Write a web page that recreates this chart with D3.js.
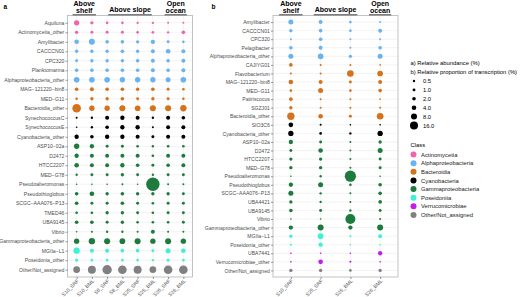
<!DOCTYPE html>
<html lang="en">
<head>
  <meta charset="UTF-8">
  <title>Bubble chart</title>
  <script src="https://d3js.org/d3.v7.min.js"></script>
</head>
<body style="margin:0">
  <div id="chart"></div>
  <script type="text/javascript">

  var w = 520;
  var h = 297;
  var font = '"Liberation Sans", Arial, sans-serif';

  // ---- data ----
  var classes = ["Actinomycetia", "Alphaproteobacteria", "Bacteroidia", "Cyanobacteria",
    "Gammaproteobacteria", "Poseidoniia", "Verrucomicrobiae", "Other/Not_assigned"];
  var classColors = ["#F064AC", "#6BB3EF", "#D4731C", "#000000", "#1E7B3E", "#3DF2D4", "#C41CEC", "#808080"];

  var sizeBreaks = [0.5, 1.0, 2.0, 4.0, 8.0, 16.0];

  var aCols = ["S10_SRF", "S10_BML", "S8_SRF", "S8_BML", "S25_SRF", "S25_BML", "S26_SRF", "S26_BML"];
  var aGroups = [["Above", "shelf"], ["Above slope"], ["Open", "ocean"]];
  var aGroupCols = [["S10_SRF", "S10_BML"], ["S8_SRF", "S25_BML"], ["S26_SRF", "S26_BML"]];
  var aRows = ["Aquiluna", "Actinomycetia_other", "Amylibacter", "CACCCN01", "CPC320", "Planktomarina",
    "Alphaproteobacteria_other", "MAG−121220−bin8", "MED−G11", "Bacteroidia_other", "SynechococcusC",
    "SynechococcusE", "Cyanobacteria_other", "ASP10−02a", "D2472", "HTCC2207", "MED−G78",
    "Pseudoalteromonas", "Pseudothioglobus", "SCGC−AAA076−P13", "TMED46", "UBA9145", "Vibrio",
    "Gammaproteobacteria_other", "MGIIa−L1", "Poseidonia_other", "Other/Not_assigned"];
  var aClass = [0, 0, 1, 1, 1, 1, 1, 2, 2, 2, 3, 3, 3, 4, 4, 4, 4, 4, 4, 4, 4, 4, 4, 4, 5, 5, 7];
  var aValues = [
    [5.9, 1.6, 0.74, 0.74, 0.45, 0.45, 0.22, 0.22],
    [1.6, 1.1, 1.1, 1.1, 0.74, 0.74, 0.45, 2.1],
    [4.1, 8.0, 2.1, 2.1, 1.6, 3.4, 1.1, 0.74],
    [1.6, 1.6, 1.6, 2.1, 1.6, 2.7, 4.1, 2.7],
    [1.1, 1.6, 1.6, 1.6, 2.1, 2.7, 2.1, 2.7],
    [2.1, 2.1, 2.1, 2.1, 2.1, 2.7, 2.1, 2.7],
    [6.9, 6.9, 6.9, 5.9, 5.9, 5.9, 5.0, 6.9],
    [2.1, 2.7, 2.1, 2.1, 1.6, 2.1, 1.1, 0.74],
    [0.74, 1.6, 1.6, 2.1, 1.1, 1.6, 1.1, 0.74],
    [19, 5.9, 5.9, 8.0, 6.9, 8.0, 8.0, 9.1],
    [0.22, 0.45, 2.7, 3.4, 2.7, 0.45, 2.7, 2.1],
    [0.07, 0.45, 2.1, 3.4, 3.4, 0.22, 2.7, 2.7],
    [3.4, 2.1, 3.4, 3.4, 2.7, 1.1, 2.7, 2.7],
    [5.9, 3.4, 1.1, 1.1, 0.74, 0.45, 0.74, 0.74],
    [3.4, 2.7, 2.7, 2.7, 2.7, 0.74, 2.7, 2.7],
    [4.1, 2.7, 2.7, 3.4, 2.1, 1.1, 2.1, 2.7],
    [0.45, 1.1, 1.1, 1.6, 1.1, 0.45, 1.1, 1.1],
    [0.07, 0.07, 0.07, 0.22, 0.07, 51, 0.22, 0.22],
    [2.1, 4.1, 1.6, 2.1, 1.6, 1.6, 1.6, 1.1],
    [2.1, 1.1, 1.1, 2.1, 1.1, 0.74, 1.1, 1.1],
    [0.74, 0.74, 1.6, 1.6, 1.1, 0.74, 1.1, 1.1],
    [2.1, 2.1, 1.1, 1.6, 0.74, 0.74, 0.74, 1.1],
    [0.07, 0.22, 0.45, 0.45, 0.22, 2.7, 0.22, 0.22],
    [5.9, 9.1, 8.0, 6.9, 8.0, 5.9, 8.0, 5.9],
    [9.1, 2.7, 2.7, 2.1, 2.1, 1.1, 5.0, 4.1],
    [1.1, 0.74, 0.74, 0.74, 0.74, 0.45, 1.1, 0.74],
    [10.3, 16, 23, 19, 16, 10.3, 19, 19]
  ];

  var bCols = ["S10_SRF", "S25_SRF", "S25_BML", "S26_BML"];
  var bGroups = [["Above", "shelf"], ["Above slope"], ["Open", "ocean"]];
  var bGroupCols = [["S10_SRF", "S10_SRF"], ["S25_SRF", "S25_BML"], ["S26_BML", "S26_BML"]];
  var bRows = ["Amylibacter", "CACCCN01", "CPC320", "Pelagibacter", "Alphaproteobacteria_other",
    "CAJIYG01", "Flavobacterium", "MAG−121220−bin8", "MED−G11", "Patiriscocus", "SGZJ01",
    "Bacteroidia_other", "SIO3C6", "Cyanobacteria_other", "ASP10−02a", "D2472", "HTCC2207",
    "MED−G78", "Pseudoalteromonas", "Pseudothioglobus", "SCGC−AAA076−P13", "UBA4421", "UBA9145",
    "Vibrio", "Gammaproteobacteria_other", "MGIIa−L1", "Poseidonia_other", "UBA7441",
    "Verrucomicrobiae_other", "Other/Not_assigned"];
  var bClass = [1, 1, 1, 1, 1, 2, 2, 2, 2, 2, 2, 2, 3, 3, 4, 4, 4, 4, 4, 4, 4, 4, 4, 4, 4, 5, 5, 6, 6, 7];
  var bValues = [
    [5.0, 2.7, 0.74, 0.22],
    [1.6, 2.1, 0.74, 2.7],
    [0.22, 2.1, 0.22, 0.22],
    [2.1, 2.7, 0.22, 2.1],
    [5.0, 6.9, 1.6, 5.0],
    [2.1, 0.22, 0.22, 0.07],
    [0.22, 0.22, 10.3, 6.9],
    [4.1, 2.7, 1.1, 2.7],
    [0.74, 5.0, 0.74, 2.1],
    [2.1, 0.22, 0.22, 0.07],
    [1.6, 0.22, 0.22, 0.22],
    [13, 4.1, 1.1, 10.3],
    [4.1, 0.22, 0.07, 0.07],
    [5.9, 0.74, 0.45, 5.9],
    [3.4, 1.1, 0.22, 1.6],
    [1.1, 4.1, 0.22, 5.0],
    [1.6, 1.6, 0.22, 1.1],
    [1.6, 1.6, 0.22, 1.1],
    [0.07, 0.45, 35, 0.07],
    [3.4, 5.0, 0.74, 2.1],
    [5.0, 0.45, 0.22, 2.1],
    [1.6, 0.45, 0.22, 2.1],
    [2.1, 1.1, 0.45, 1.1],
    [0.07, 0.07, 27, 0.22],
    [3.4, 8.0, 3.4, 8.0],
    [1.6, 6.9, 0.22, 2.7],
    [0.22, 3.4, 0.07, 0.07],
    [0.07, 0.07, 0.07, 3.4],
    [0.07, 4.1, 0.22, 0.07],
    [1.6, 1.6, 0.74, 1.6]
  ];

  // ---- shared scales ----
  var size = d3.scaleSqrt().domain([0, 16]).range([0.6, 4.0]);
  var color = d3.scaleOrdinal().domain(d3.range(classes.length)).range(classColors);

  var svg = d3.select('#chart')
    .append('svg')
    .attr('width', w)
    .attr('height', h)
    .style('font-family', font);

  svg.append('rect').attr('width', w).attr('height', h).attr('fill', '#fff');

  function drawPanel(cfg) {
    var x = d3.scalePoint().domain(cfg.cols).range([cfg.left, cfg.right]).padding(0.6);
    var y = d3.scalePoint().domain(cfg.rows).range([cfg.top, cfg.bottom]).padding(0.77);

    var g = svg.append('g');

    // grid
    g.selectAll('line.hg').data(cfg.rows).enter().append('line')
      .attr('x1', cfg.left).attr('x2', cfg.right)
      .attr('y1', d => y(d)).attr('y2', d => y(d))
      .attr('stroke', '#ebebeb').attr('stroke-width', 0.6);
    g.selectAll('line.vg').data(cfg.cols).enter().append('line')
      .attr('y1', cfg.top).attr('y2', cfg.bottom)
      .attr('x1', d => x(d)).attr('x2', d => x(d))
      .attr('stroke', '#ebebeb').attr('stroke-width', 0.6);

    // bubbles
    var cells = [];
    cfg.values.forEach(function(row, i) {
      row.forEach(function(v, j) {
        cells.push({row: cfg.rows[i], col: cfg.cols[j], v: v, c: cfg.cls[i]});
      });
    });
    g.selectAll('circle.b').data(cells).enter().append('circle')
      .attr('cx', d => x(d.col))
      .attr('cy', d => y(d.row))
      .attr('r', d => size(d.v))
      .attr('fill', d => color(d.c));

    // border
    g.append('rect')
      .attr('x', cfg.left).attr('y', cfg.top)
      .attr('width', cfg.right - cfg.left).attr('height', cfg.bottom - cfg.top)
      .attr('fill', 'none').attr('stroke', '#b3b3b3').attr('stroke-width', 0.8);

    // axes
    var ya = g.append('g').attr('transform', 'translate(' + cfg.left + ',0)')
      .call(d3.axisLeft(y).tickSize(2).tickPadding(1.2))
      .attr('font-family', null).attr('font-size', null);
    ya.select('.domain').remove();
    ya.selectAll('line').attr('stroke', '#333').attr('stroke-width', 0.5);
    ya.selectAll('text').style('font-size', '5.1px').attr('fill', '#4d4d4d')
      .style('font-family', font);

    var xa = g.append('g').attr('transform', 'translate(0,' + cfg.bottom + ')')
      .call(d3.axisBottom(x).tickSize(2))
      .attr('font-family', null).attr('font-size', null);
    xa.select('.domain').remove();
    xa.selectAll('line').attr('stroke', '#333').attr('stroke-width', 0.5);
    xa.selectAll('text').style('font-size', '5px').attr('fill', '#4d4d4d')
      .style('font-family', font)
      .attr('text-anchor', 'end')
      .attr('dy', null).attr('y', 0)
      .attr('transform', 'translate(2,4.3) rotate(-45)');

    // group headers
    cfg.groups.forEach(function(lines, k) {
      var c0 = x(cfg.groupCols[k][0]), c1 = x(cfg.groupCols[k][1]);
      var cx = (c0 + c1) / 2;
      var t = g.append('text').attr('text-anchor', 'middle')
        .style('font-size', '7px').attr('font-weight', 'bold').attr('fill', '#000');
      var base = lines.length === 2 ? 6.3 : 11.5;
      lines.forEach(function(s, li) {
        t.append('tspan').attr('x', cx).attr('y', base + li * 6.8).text(s);
      });
      var tw = 0;
      t.selectAll('tspan').each(function() { tw = Math.max(tw, this.getComputedTextLength()); });
      g.append('line')
        .attr('x1', cx - tw / 2 - 1).attr('x2', cx + tw / 2 + 1)
        .attr('y1', 14.8).attr('y2', 14.8)
        .attr('stroke', '#333').attr('stroke-width', 0.9);
    });

    g.append('text').attr('x', cfg.tagX).attr('y', cfg.tagY)
      .style('font-size', '6.5px').attr('font-weight', 'bold').attr('fill', '#000').text(cfg.tag);
  }

  drawPanel({rows: aRows, cols: aCols, values: aValues, cls: aClass,
    groups: aGroups, groupCols: aGroupCols,
    left: 67.5, right: 192.5, top: 15.5, bottom: 277, tag: 'a', tagX: 3.5, tagY: 9});

  drawPanel({rows: bRows, cols: bCols, values: bValues, cls: bClass,
    groups: bGroups, groupCols: bGroupCols,
    left: 273, right: 398, top: 15.5, bottom: 277, tag: 'b', tagX: 211.5, tagY: 9});

  // ---- legends ----
  var lg = svg.append('g').style('font-size', '5.85px');
  lg.append('text').attr('x', 410.5).attr('y', 65).attr('fill', '#000').text('a) Relative abundance (%)');
  lg.append('text').attr('x', 410.5).attr('y', 73.5).attr('fill', '#000').text('b) Relative proportion of transcription (%)');

  var sizeY = d3.scalePoint().domain(sizeBreaks).range([81, 125.5]);
  lg.selectAll('circle.sk').data(sizeBreaks).enter().append('circle')
    .attr('cx', 414).attr('cy', d => sizeY(d)).attr('r', d => size(d)).attr('fill', '#000');
  lg.selectAll('text.sk').data(sizeBreaks).enter().append('text')
    .attr('x', 423).attr('y', d => sizeY(d) + 2.1).attr('fill', '#000').text(d => d.toFixed(1));

  lg.append('text').attr('x', 410.5).attr('y', 147).attr('fill', '#000').text('Class');
  var classY = d3.scalePoint().domain(classes).range([154.5, 215]);
  lg.selectAll('circle.ck').data(classes).enter().append('circle')
    .attr('cx', 413.5).attr('cy', d => classY(d)).attr('r', 3)
    .attr('fill', d => classColors[classes.indexOf(d)]);
  lg.selectAll('text.ck').data(classes).enter().append('text')
    .attr('x', 421).attr('y', d => classY(d) + 2.1).attr('fill', '#1a1a1a').text(d => d);

  </script>
</body>
</html>
